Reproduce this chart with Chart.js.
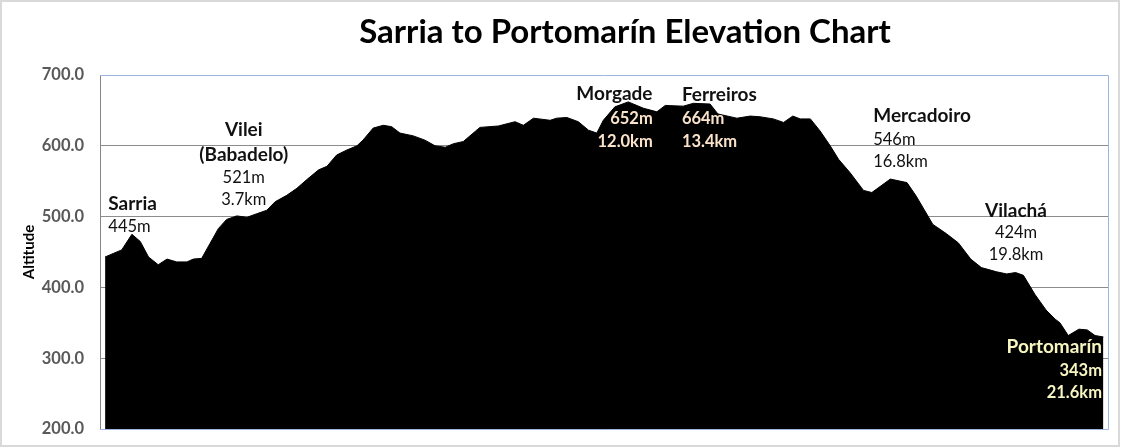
<!DOCTYPE html>
<html>
<head>
<meta charset="utf-8">
<script src="https://cdn.jsdelivr.net/npm/chart.js@4.4.1/dist/chart.umd.min.js"></script>
<style>
  html, body { margin: 0; padding: 0; background: #fff; }
  #wrap { width: 1125px; height: 448px; position: relative; }
</style>
</head>
<body>
<div id="wrap"><canvas id="elevChart" width="1125" height="448"></canvas></div>
<script>
// distance along the route (km) and altitude (m)
const distanceKm = [
  0.00, 0.36, 0.58, 0.76, 0.94, 1.15, 1.34, 1.55, 1.77, 1.91,
  2.09, 2.27, 2.45, 2.63, 2.85, 3.07, 3.28, 3.50, 3.68, 3.93,
  4.15, 4.36, 4.62, 4.80, 5.01, 5.23, 5.45, 5.58, 5.80, 6.02,
  6.20, 6.38, 6.67, 6.92, 7.14, 7.36, 7.54, 7.75, 8.11, 8.51,
  8.87, 9.05, 9.27, 9.63, 9.77, 9.99, 10.24, 10.46, 10.64, 10.78,
  11.03, 11.32, 11.65, 11.94, 12.12, 12.51, 12.73, 13.09, 13.26, 13.67,
  13.96, 14.17, 14.46, 14.68, 14.88, 15.04, 15.26, 15.47, 15.69, 15.87,
  16.12, 16.41, 16.59, 16.99, 17.35, 17.55, 17.91, 18.20, 18.46, 18.73,
  18.96, 19.29, 19.51, 19.70, 19.87, 20.12, 20.36, 20.56, 20.66, 20.84,
  21.07, 21.25, 21.42, 21.60
];
const altitudeM = [
  443, 453, 475, 465, 443, 432, 440, 436, 436, 440,
  441, 462, 483, 496, 501, 499, 504, 509, 521, 530,
  540, 552, 566, 571, 587, 594, 600, 608, 625, 629,
  627, 618, 614, 608, 600, 598, 603, 606, 626, 628,
  634, 629, 639, 636, 639, 640, 634, 622, 618, 636,
  655, 662, 653, 648, 657, 656, 660, 659, 645, 639,
  642, 641, 638, 633, 642, 638, 638, 621, 600, 581,
  562, 537, 534, 553, 548, 529, 489, 476, 463, 440,
  428, 422, 419, 421, 417, 390, 368, 355, 350, 332,
  341, 340, 332, 330
];

const yMin = 200, yMax = 700, yStep = 100;
const chartTitle = 'Sarria to Portomarín Elevation Chart';
const yTitle = 'Altitude';

// place labels: text lines with the km / altitude they sit at on the chart
const placeLabels = [
  { text: 'Sarria',      km: 0.07,  m: 509, align: 'left',   kind: 'name' },
  { text: '445m',        km: 0.07,  m: 478, align: 'left',   kind: 'value' },
  { text: 'Vilei',       km: 3.00,  m: 614, align: 'center', kind: 'name' },
  { text: '(Babadelo)',  km: 3.00,  m: 579, align: 'center', kind: 'name' },
  { text: '521m',        km: 3.00,  m: 548, align: 'center', kind: 'value' },
  { text: '3.7km',       km: 3.00,  m: 516, align: 'center', kind: 'value' },
  { text: 'Morgade',     km: 11.02, m: 664, align: 'center', kind: 'name' },
  { text: '652m',        km: 11.85, m: 631, align: 'right',  kind: 'cream' },
  { text: '12.0km',      km: 11.85, m: 599, align: 'right',  kind: 'cream' },
  { text: 'Ferreiros',   km: 12.48, m: 663, align: 'left',   kind: 'name' },
  { text: '664m',        km: 12.48, m: 631, align: 'left',   kind: 'cream' },
  { text: '13.4km',      km: 12.48, m: 599, align: 'left',   kind: 'cream' },
  { text: 'Mercadoiro',  km: 16.62, m: 633, align: 'left',   kind: 'name' },
  { text: '546m',        km: 16.62, m: 601, align: 'left',   kind: 'value' },
  { text: '16.8km',      km: 16.62, m: 570, align: 'left',   kind: 'value' },
  { text: 'Vilachá',     km: 19.71, m: 500, align: 'center', kind: 'name' },
  { text: '424m',        km: 19.71, m: 470, align: 'center', kind: 'value' },
  { text: '19.8km',      km: 19.71, m: 439, align: 'center', kind: 'value' },
  { text: 'Portomarín',  km: 21.57, m: 307, align: 'right',  kind: 'endName' },
  { text: '343m',        km: 21.57, m: 275, align: 'right',  kind: 'end' },
  { text: '21.6km',      km: 21.57, m: 244, align: 'right',  kind: 'end' }
];

const FONT = 'Lato, "Open Sans", sans-serif';
const labelStyles = {
  name:    { font: 'bold 19px ' + FONT, color: '#111111' },
  value:   { font: '16.5px ' + FONT, color: '#111111' },
  cream:   { font: 'bold 16.5px ' + FONT, color: '#FBE3CB' },
  endName: { font: 'bold 19px ' + FONT, color: '#F8F6C0' },
  end:     { font: 'bold 16.5px ' + FONT, color: '#F8F6C0' }
};

const decorPlugin = {
  id: 'decor',
  afterDatasetsDraw(chart) {
    const { ctx, chartArea: a, scales } = chart;
    ctx.save();
    // plot frame (light blue top/right/bottom)
    ctx.strokeStyle = '#9DB5E0';
    ctx.lineWidth = 1;
    ctx.beginPath();
    ctx.moveTo(a.left, Math.round(a.top) + 0.5);
    ctx.lineTo(Math.round(a.right) + 0.5, Math.round(a.top) + 0.5);
    ctx.lineTo(Math.round(a.right) + 0.5, Math.round(a.bottom) + 0.5);
    ctx.lineTo(a.left, Math.round(a.bottom) + 0.5);
    ctx.stroke();

    // place labels
    placeLabels.forEach(l => {
      const st = labelStyles[l.kind];
      ctx.font = st.font;
      ctx.fillStyle = st.color;
      ctx.textAlign = l.align;
      ctx.textBaseline = 'alphabetic';
      ctx.fillText(l.text, scales.x.getPixelForValue(l.km), scales.y.getPixelForValue(l.m));
    });

    // title
    ctx.font = 'bold 33px ' + FONT;
    ctx.fillStyle = '#000';
    ctx.textAlign = 'center';
    ctx.fillText(chartTitle, 625, 43);

    // y axis title
    ctx.translate(29, 252);
    ctx.rotate(-Math.PI / 2);
    ctx.font = 'bold 15px ' + FONT;
    ctx.textBaseline = 'middle';
    ctx.fillText(yTitle, 0, 0);
    ctx.restore();

    // outer border
    ctx.save();
    ctx.strokeStyle = '#D9D9D9';
    ctx.lineWidth = 2;
    ctx.strokeRect(1, 1, 1118, 445);
    ctx.restore();
  }
};

new Chart(document.getElementById('elevChart'), {
  type: 'line',
  data: {
    datasets: [{
      label: 'Altitude',
      data: distanceKm.map((d, i) => ({ x: d, y: altitudeM[i] })),
      backgroundColor: '#000000',
      borderColor: '#000000',
      borderWidth: 1,
      pointRadius: 0,
      tension: 0,
      fill: 'start'
    }]
  },
  options: {
    responsive: false,
    animation: false,
    devicePixelRatio: 1,
    layout: { padding: { left: 0, top: 75, right: 17, bottom: 19 } },
    plugins: { legend: { display: false }, title: { display: false }, tooltip: { enabled: false } },
    scales: {
      x: {
        type: 'linear',
        min: -0.11,
        max: 21.70,
        display: false
      },
      y: {
        min: yMin,
        max: yMax,
        afterFit(scale) {
          scale.width = 100;
          scale.paddingTop = 0;
          scale.paddingBottom = 0;
        },
        ticks: {
          stepSize: yStep,
          padding: 16,
          color: '#595959',
          font: { family: FONT, size: 16.5, weight: 'bold' },
          callback: v => v.toFixed(1)
        },
        grid: {
          drawTicks: false,
          color: ctx => (ctx.tick && ctx.tick.value === yMax) ? 'rgba(0,0,0,0)' : '#8C8C8C',
          lineWidth: 1
        },
        border: { display: true, color: '#868686', width: 1 }
      }
    }
  },
  plugins: [decorPlugin]
});
</script>
</body>
</html>
